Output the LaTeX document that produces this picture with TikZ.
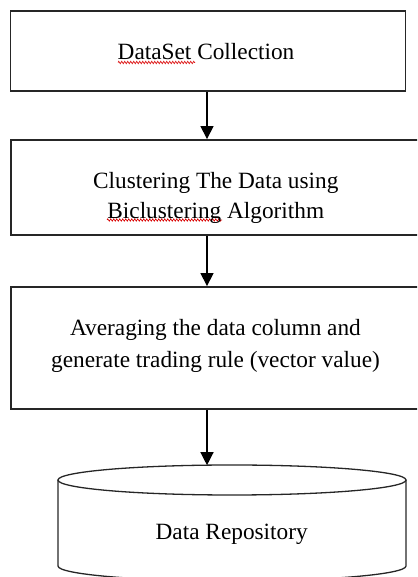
\documentclass[tikz,border=0pt]{standalone}
\usepackage{fontspec}
\setmainfont{Liberation Serif}
\usetikzlibrary{arrows.meta,decorations.pathmorphing}
\begin{document}
\begin{tikzpicture}[x=1pt,y=1pt,
  box/.style={draw=black!85,line width=1.8pt,inner sep=0pt},
  txt/.style={align=center,inner sep=0pt,font=\fontsize{23.3}{32}\selectfont},
  flow/.style={draw=black,line width=1.3pt,-{Triangle[width=13pt,length=13pt]}},
  cyl/.style={draw=black!85,line width=1.3pt},
  squig/.style={draw=red!85!black,line width=0.6pt,decorate,
    decoration={zigzag,amplitude=1.2pt,segment length=3pt}}]
\useasboundingbox (0,0) rectangle (417,577);
\clip (0,0) rectangle (417,577);
\coordinate (ax) at (207,0);
% boxes
\node[box,minimum width=395pt,minimum height=80pt] (b1) at (208,526) {};
\node[box,minimum width=409pt,minimum height=95pt] (b2) at (215.5,389.5) {};
\node[box,minimum width=409pt,minimum height=122pt] (b3) at (215.5,229) {};
% cylinder
\draw[cyl] (58,97) -- (58,11) arc[start angle=180,end angle=360,x radius=174,y radius=15] -- (406,97);
\draw[cyl] (232,97) ellipse[x radius=174,y radius=15];
\coordinate (cyltop) at (207,111.8);
% spell-check squiggles
\draw[squig] (118,514.5) -- (195,514.5);
\draw[squig] (107,357) -- (222,357);
% texts
\node[txt,anchor=base] (t1) at (206,517) {DataSet Collection};
\node[txt,font=\fontsize{23.3}{30}\selectfont] (t2) at (215.8,379.5)
  {Clustering The Data using\\Biclustering Algorithm};
\node[txt] (t3) at (215.5,231.5)
  {Averaging the data column and\\generate trading rule (vector value)};
\node[txt,anchor=base] (repo) at (231.7,37) {Data Repository};
% connectors
\draw[flow] (b1.south -| ax) -- (b2.north -| ax);
\draw[flow] (b2.south -| ax) -- (b3.north -| ax);
\draw[flow] (b3.south -| ax) -- (cyltop);
\end{tikzpicture}
\end{document}
